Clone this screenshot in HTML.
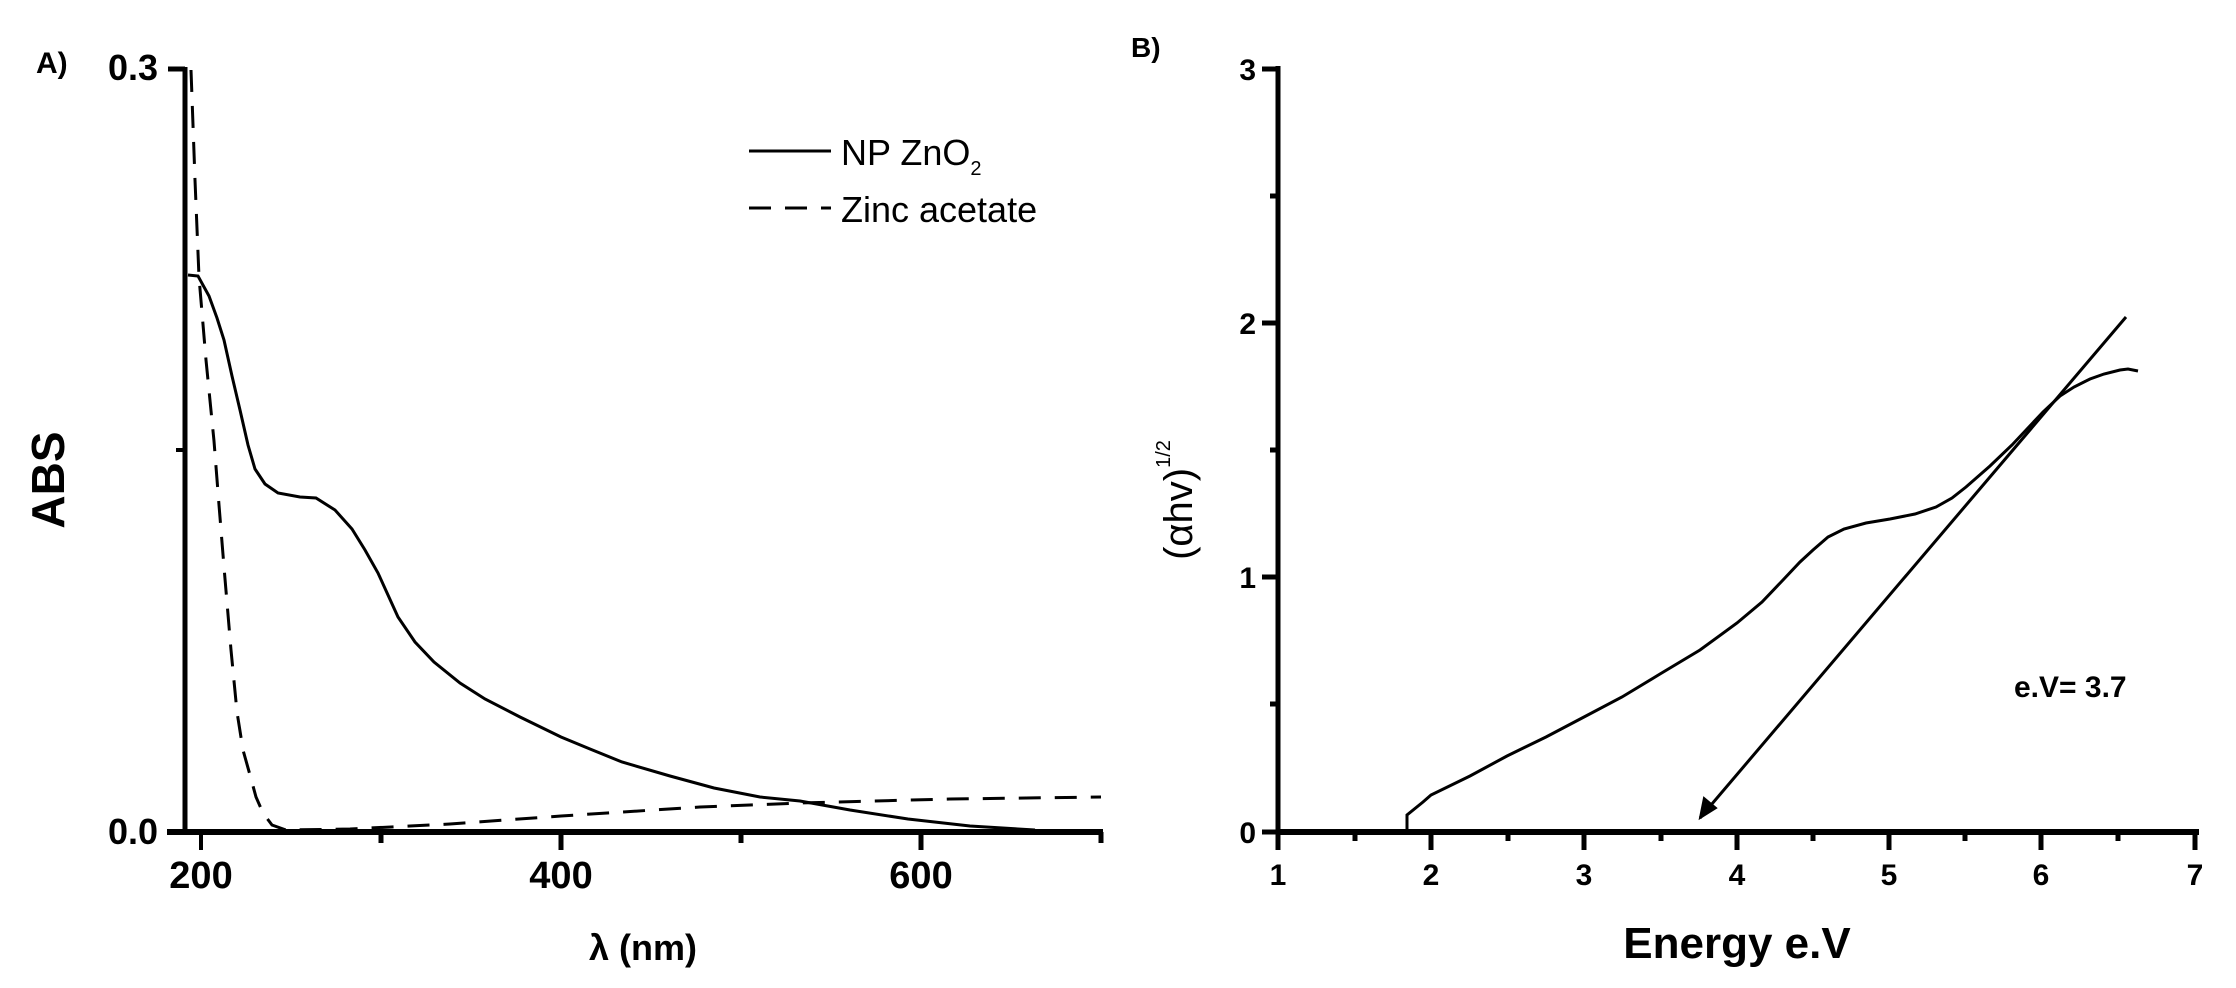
<!DOCTYPE html>
<html><head><meta charset="utf-8"><style>
html,body{margin:0;padding:0;background:#fff;}
svg{display:block;}
text{font-family:"Liberation Sans",sans-serif;font-weight:bold;fill:#000;}
</style></head><body>
<svg width="2236" height="988" viewBox="0 0 2236 988" xmlns="http://www.w3.org/2000/svg">
<!-- Panel A -->
<text x="36" y="73" font-size="30">A)</text>
<g stroke="#000" fill="none" stroke-linecap="butt">
<line x1="185" y1="67" x2="185" y2="834" stroke-width="5"/>
<line x1="167" y1="832" x2="1103" y2="832" stroke-width="6"/>
<line x1="168" y1="69" x2="185" y2="69" stroke-width="5"/>
<line x1="176" y1="450" x2="185" y2="450" stroke-width="4"/>
<line x1="201" y1="832" x2="201" y2="850" stroke-width="4"/>
<line x1="381" y1="832" x2="381" y2="843" stroke-width="5"/>
<line x1="561" y1="832" x2="561" y2="850" stroke-width="5"/>
<line x1="741" y1="832" x2="741" y2="843" stroke-width="5"/>
<line x1="921" y1="832" x2="921" y2="850" stroke-width="5"/>
<line x1="1101" y1="832" x2="1101" y2="843" stroke-width="5"/>
<path d="M188,275 L198,276 L209,296 L217,318 L224,340 L232,376 L240,410 L248,445 L255,469 L265,484 L278,493 L300,497 L316,498 L335,510 L352,529 L365,550 L378,573 L398,617 L415,642 L434,662 L460,683 L485,699 L520,717 L561,737 L590,749 L622,762 L670,776 L714,788 L760,797 L800,801 L850,810 L908,819 L970,826 L1035,830" stroke-width="3"/>
<path d="M191,70 L195,180 L199,277 L206,360 L214,441 L219,505 L224,567 L231,650 L237,712 L243,750 L250,775 L256,797 L263,813 L272,825 L286,830 L350,829 L450,824 L561,816 L700,807 L800,803 L950,799 L1101,797" stroke-width="3" stroke-dasharray="22,14"/>
<line x1="749" y1="151" x2="831" y2="151" stroke-width="3"/>
<line x1="749" y1="208" x2="831" y2="208" stroke-width="3" stroke-dasharray="22,14"/>
</g>
<text x="841" y="165" font-size="36" style="font-weight:normal">NP ZnO<tspan font-size="20" dy="10">2</tspan></text>
<text x="841" y="222" font-size="36" style="font-weight:normal">Zinc acetate</text>
<text x="158" y="80" font-size="36" text-anchor="end">0.3</text>
<text x="158" y="844" font-size="36" text-anchor="end">0.0</text>
<text x="201" y="888" font-size="38" text-anchor="middle">200</text>
<text x="561" y="888" font-size="38" text-anchor="middle">400</text>
<text x="921" y="888" font-size="38" text-anchor="middle">600</text>
<text x="643" y="960" font-size="36" text-anchor="middle">λ (nm)</text>
<text transform="translate(64,480) rotate(-90)" font-size="46" text-anchor="middle">ABS</text>
<!-- Panel B -->
<text x="1131" y="57" font-size="28">B)</text>
<g stroke="#000" fill="none">
<line x1="1278" y1="66" x2="1278" y2="835" stroke-width="5"/>
<line x1="1276" y1="832" x2="2199" y2="832" stroke-width="6"/>
<line x1="1262" y1="69" x2="1278" y2="69" stroke-width="5"/>
<line x1="1270" y1="196" x2="1278" y2="196" stroke-width="5"/>
<line x1="1262" y1="323" x2="1278" y2="323" stroke-width="5"/>
<line x1="1270" y1="450" x2="1278" y2="450" stroke-width="5"/>
<line x1="1262" y1="577" x2="1278" y2="577" stroke-width="5"/>
<line x1="1270" y1="704" x2="1278" y2="704" stroke-width="5"/>
<line x1="1262" y1="832" x2="1278" y2="832" stroke-width="5"/>
<line x1="1278" y1="832" x2="1278" y2="850" stroke-width="5"/>
<line x1="1355" y1="832" x2="1355" y2="841" stroke-width="5"/>
<line x1="1431" y1="832" x2="1431" y2="850" stroke-width="5"/>
<line x1="1508" y1="832" x2="1508" y2="841" stroke-width="5"/>
<line x1="1584" y1="832" x2="1584" y2="850" stroke-width="5"/>
<line x1="1661" y1="832" x2="1661" y2="841" stroke-width="5"/>
<line x1="1737" y1="832" x2="1737" y2="850" stroke-width="5"/>
<line x1="1813" y1="832" x2="1813" y2="841" stroke-width="5"/>
<line x1="1889" y1="832" x2="1889" y2="850" stroke-width="5"/>
<line x1="1965" y1="832" x2="1965" y2="841" stroke-width="5"/>
<line x1="2041" y1="832" x2="2041" y2="850" stroke-width="5"/>
<line x1="2118" y1="832" x2="2118" y2="841" stroke-width="5"/>
<line x1="2195" y1="832" x2="2195" y2="850" stroke-width="5"/>
<path d="M1407,832 L1407,815 L1423,802 L1431,795 L1470,776 L1507,756 L1546,737 L1584,717 L1622,697 L1660,674 L1700,650 L1737,623 L1762,602 L1783,580 L1800,562 L1813,550 L1828,537 L1844,529 L1866,523 L1890,519 L1915,514 L1936,507 L1952,498 L1966,487 L1990,466 L2012,445 L2043,412 L2060,396 L2074,387 L2090,379 L2104,374 L2120,370 L2128,369 L2138,371" stroke-width="3"/>
<line x1="2126" y1="317" x2="1700" y2="818" stroke-width="3"/>
<path d="M1700,818 L1704,798 L1716,808 Z" fill="#000" stroke-width="2"/>
</g>
<text x="1256" y="80" font-size="30" text-anchor="end">3</text>
<text x="1256" y="334" font-size="30" text-anchor="end">2</text>
<text x="1256" y="588" font-size="30" text-anchor="end">1</text>
<text x="1256" y="843" font-size="30" text-anchor="end">0</text>
<text x="1278" y="885" font-size="30" text-anchor="middle">1</text>
<text x="1431" y="885" font-size="30" text-anchor="middle">2</text>
<text x="1584" y="885" font-size="30" text-anchor="middle">3</text>
<text x="1737" y="885" font-size="30" text-anchor="middle">4</text>
<text x="1889" y="885" font-size="30" text-anchor="middle">5</text>
<text x="2041" y="885" font-size="30" text-anchor="middle">6</text>
<text x="2195" y="885" font-size="30" text-anchor="middle">7</text>
<text x="1737" y="958" font-size="44" text-anchor="middle">Energy e.V</text>
<text x="2014" y="697" font-size="30">e.V= 3.7</text>
<text transform="translate(1192,500) rotate(-90)" font-size="40" text-anchor="middle" style="font-weight:normal">(αhv)<tspan font-size="20" dy="-22">1/2</tspan></text>
</svg>
</body></html>
